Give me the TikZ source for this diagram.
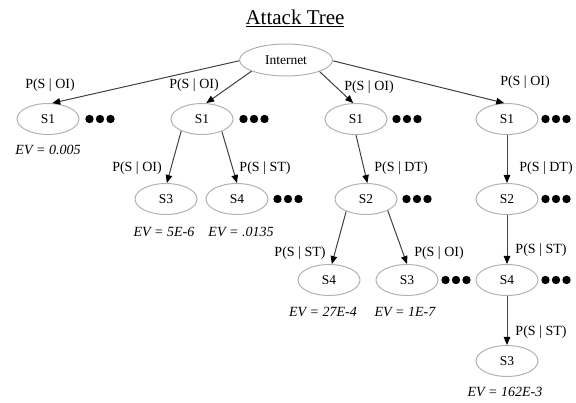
\documentclass[tikz,border=0pt]{standalone}
\usepackage{fontspec}
\setmainfont{Liberation Serif}
\usetikzlibrary{arrows.meta}
\usetikzlibrary{shapes.geometric}

\tikzset{
  state/.style={ellipse,draw=gray!60,line width=1pt,minimum width=62pt,minimum height=31pt,inner sep=0pt,font=\fontsize{13.5}{14}\selectfont},
  prob/.style={inner sep=0pt,font=\fontsize{14}{14}\selectfont},
  ev/.style={inner sep=0pt,font=\fontsize{14}{14}\selectfont\itshape},
  more/.style={minimum width=30pt,minimum height=9pt,inner sep=0pt,
    path picture={\foreach \k in {-1,0,1}
      \fill ([xshift=\k*10.5pt]path picture bounding box.center) circle (4.2pt);}},
  edge/.style={draw=black!75,line width=1pt,-{Triangle[length=8pt,width=6.5pt,color=black]}}
}

\begin{document}
\begin{tikzpicture}[x=1pt,y=-1pt]
  \useasboundingbox (0,0) rectangle (576,403);

  \node (title) at (295,18) {\fontsize{21}{21}\selectfont\underline{Attack Tree}};
  \node[state,minimum width=93pt,minimum height=32pt,font=\fontsize{13.5}{14}\selectfont] (inet) at (286,60) {Internet};

  % first level
  \node[state] (S1a) at (48,119) {S1};   \node[more] (Ma) at (100,119) {};
  \node[state] (S1b) at (202,119) {S1};  \node[more] (Mb) at (254,119) {};
  \node[state] (S1c) at (356,119) {S1};  \node[more] (Mc) at (407,119) {};
  \node[state] (S1d) at (507,119) {S1};  \node[more] (Md) at (556,119) {};
  \node[ev] (EVa) at (48,150) {EV = 0.005};

  \draw[edge] (inet.181)--(S1a.75);
  \draw[edge] (inet.198)--(S1b.75);
  \draw[edge] (inet.-19)--(S1c.100);
  \draw[edge] (inet.-1)--(S1d.100);
  \node[prob] (Pa) at (50,85) {P(S | OI)};
  \node[prob] (Pb) at (194,85) {P(S | OI)};
  \node[prob] (Pc) at (369,87) {P(S | OI)};
  \node[prob] (Pd) at (525,82) {P(S | OI)};

  % second level
  \node[state] (S3a) at (166,199) {S3};
  \node[state] (S4a) at (237,199) {S4};  \node[more] (M4a) at (288,199) {};
  \node[state] (S2c) at (366,199) {S2};  \node[more] (M2c) at (417,199) {};
  \node[state] (S2d) at (507,199) {S2};  \node[more] (M2d) at (556,199) {};
  \node[ev] (EVb) at (164,232) {EV = 5E-6};
  \node[ev] (EVc) at (241,232) {EV = .0135};

  \draw[edge] (S1b.210)--(S3a.87);
  \draw[edge] (S1b.-32)--(S4a.north);
  \draw[edge] (S1c.south)--(S2c.85);
  \draw[edge] (S1d.south)--(S2d.north);
  \node[prob] (Pe) at (137,168) {P(S | OI)};
  \node[prob] (Pf) at (265,168) {P(S | ST)};
  \node[prob] (Pg) at (401,168) {P(S | DT)};
  \node[prob] (Ph) at (546,168) {P(S | DT)};

  % third level
  \node[state] (S4b) at (329,280) {S4};
  \node[state] (S3b) at (407,280) {S3};  \node[more] (M3b) at (456,280) {};
  \node[state] (S4c) at (507,280) {S4};  \node[more] (M4c) at (556,280) {};
  \node[ev] (EVd) at (323,312) {EV = 27E-4};
  \node[ev] (EVe) at (405,312) {EV = 1E-7};

  \draw[edge] (S2c.212)--(S4b.80);
  \draw[edge] (S2c.-28)--(S3b.north);
  \draw[edge] (S2d.south)--(S4c.north);
  \node[prob] (Pi) at (300,253) {P(S | ST)};
  \node[prob] (Pj) at (439,253) {P(S | OI)};
  \node[prob] (Pk) at (541,250) {P(S | ST)};

  % last one down the right side
  \node[state] (S3c) at (507,361) {S3};
  \node[ev] (EVf) at (505,392) {EV = 162E-3};
  \draw[edge] (S4c.south)--(S3c.north);
  \node[prob] (Pl) at (541,332) {P(S | ST)};
\end{tikzpicture}
\end{document}
